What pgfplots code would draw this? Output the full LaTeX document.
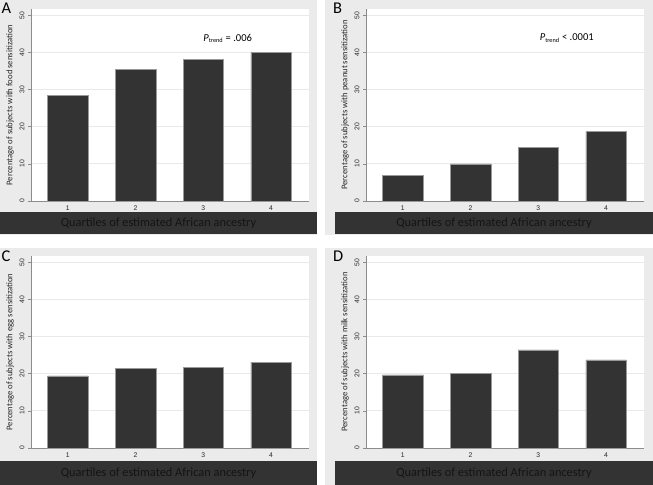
\documentclass[border=0pt]{standalone}
\usepackage{fontspec}
\setmainfont{Carlito}
\newfontfamily\tickfont{Liberation Sans}
\usepackage{pgfplots}
\pgfplotsset{compat=1.18}
\definecolor{panelbg}{HTML}{EBEBEB}
\definecolor{band}{HTML}{333333}
\definecolor{bandtext}{HTML}{141414}
\definecolor{barfill}{HTML}{333333}
\definecolor{gridc}{HTML}{E9E9E9}
\definecolor{axisc}{HTML}{8C8C8C}
\pgfplotsset{
  panel/.style={
    scale only axis,
    width=278bp, height=192bp,
    anchor=south west,
    xmin=0.456, xmax=4.56,
    ymin=0, ymax=51.7,
    xtick={1,2,3,4},
    ytick={0,10,...,50},
    axis x line*=bottom, axis y line*=left,
    axis line style={axisc, line width=0.6pt, -},
    axis background/.style={fill=white},
    ymajorgrids, grid style={gridc, line width=0.9pt},
    tick style={axisc, line width=0.6pt},
    major tick length=3bp,
    xtick style={draw=none},
    tick align=outside,
    yticklabel style={anchor=center, xshift=-6bp, rotate=90, font=\tickfont\fontsize{6.8}{7}\selectfont, text=black!85},
    xticklabel style={font=\tickfont\fontsize{6.8}{7}\selectfont, text=black!85, inner sep=1.5pt},
    ylabel style={font=\fontsize{8.7}{9}\selectfont, text=black!85, at={(axis description cs:-0.0755,0.5)}, anchor=center, rotate=0},
    /pgf/number format/assume math mode=true,
    clip=false,
  },
  bars/.style={ybar, bar width=0.6, fill=barfill, draw=black!40, line width=0.5pt},
}
\begin{document}
\begin{tikzpicture}
\begin{scope}[x=1bp,y=1bp]
\useasboundingbox (0,0) rectangle (653,485);
% backgrounds
\fill[panelbg] (0,250) rectangle (317,485);
\fill[panelbg] (325,250) rectangle (653,485);
\fill[panelbg] (0,0) rectangle (317,237);
\fill[panelbg] (325,0) rectangle (653,237);
\fill[band] (0,251) rectangle (317,273);
\fill[band] (335,251) rectangle (653,273);
\fill[band] (0,0) rectangle (317,24);
\fill[band] (335,0) rectangle (653,24);
\foreach \cx/\cy in {158.5/262, 494/262, 158.5/12, 494/12}
  \node[text=bandtext, font=\fontsize{12.4}{13}\selectfont] at (\cx,\cy) {Quartiles of estimated African ancestry};
% letters
\node[anchor=north west, inner sep=0pt, font=\fontsize{16.5}{17}\selectfont] at (1.5,482) {A};
\node[anchor=north west, inner sep=0pt, font=\fontsize{16.5}{17}\selectfont] at (333,482) {B};
\node[anchor=north west, inner sep=0pt, font=\fontsize{16.5}{17}\selectfont] at (1.5,234) {C};
\node[anchor=north west, inner sep=0pt, font=\fontsize{16.5}{17}\selectfont] at (333,234) {D};
\end{scope}

% Panel A
\begin{axis}[panel, at={(31bp,284bp)}, ylabel={Percentage of subjects with food sensitization}]
\addplot[bars] coordinates {(1,28.5) (2,35.4) (3,38.1) (4,40.0)};
\node[font=\fontsize{10.6}{11}\selectfont] at (axis cs:3.36,43.8) {\textit{P}\textsubscript{\fontsize{6.3}{6.3}\selectfont trend} = .006};
\end{axis}
% Panel B
\begin{axis}[panel, at={(366bp,284bp)}, ylabel={Percentage of subjects with peanut sensitization}]
\addplot[bars] coordinates {(1,6.8) (2,10.0) (3,14.5) (4,18.7)};
\node[font=\fontsize{10.6}{11}\selectfont] at (axis cs:3.42,43.8) {\textit{P}\textsubscript{\fontsize{6.3}{6.3}\selectfont trend} < .0001};
\end{axis}
% Panel C
\begin{axis}[panel, at={(31bp,37bp)}, ylabel={Percentage of subjects with egg sensitization}]
\addplot[bars] coordinates {(1,19.4) (2,21.5) (3,21.8) (4,23.1)};
\end{axis}
% Panel D
\begin{axis}[panel, at={(366bp,37bp)}, ylabel={Percentage of subjects with milk sensitization}]
\addplot[bars] coordinates {(1,19.7) (2,20.0) (3,26.4) (4,23.7)};
\end{axis}
\end{tikzpicture}
\end{document}
